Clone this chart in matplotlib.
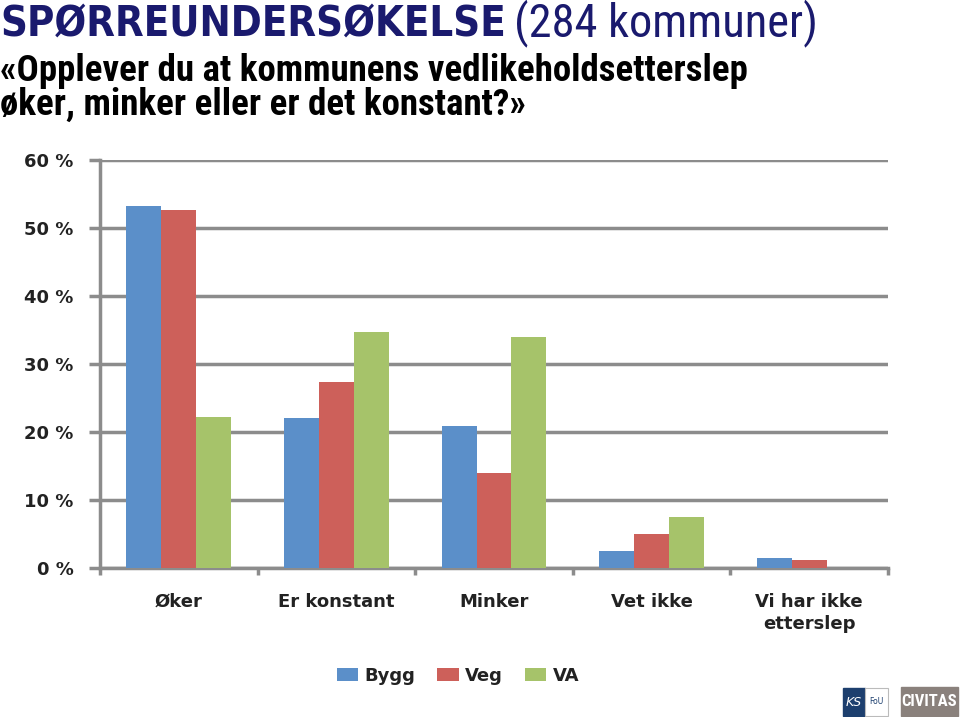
import matplotlib
matplotlib.use("Agg")
import matplotlib.pyplot as plt
import numpy as np
from matplotlib.patches import Rectangle

categories = ["Øker", "Er konstant", "Minker", "Vet ikke", "Vi har ikke\netterslep"]
series_names = ["Bygg", "Veg", "VA"]
bygg = [53.2, 22.1, 20.9, 2.5, 1.5]
veg = [52.6, 27.4, 14.0, 5.0, 1.2]
va = [22.2, 34.7, 34.0, 7.5, 0.0]
yticks = [0, 10, 20, 30, 40, 50, 60]
colors = ["#5b8fc9", "#cd605a", "#a6c36a"]

W, H = 960, 717
fig = plt.figure(figsize=(W / 100, H / 100), dpi=100)
ax = fig.add_axes([100 / W, 1 - 568 / H, 788 / W, 408 / H])

narrow = ["Liberation Sans Narrow", "Roboto Condensed", "DejaVu Sans"]
lab = ["DejaVu Sans"]
gray = "#8c8c8c"

x = np.arange(len(categories))
bw = 0.222
for i, (vals, c, n) in enumerate(zip([bygg, veg, va], colors, series_names)):
    ax.bar(x + (i - 1) * bw, vals, width=bw, color=c, label=n, zorder=3)

ax.set_xlim(-0.5, len(categories) - 0.5)
ax.set_ylim(0, 60)
ax.set_yticks(yticks)
ax.set_yticklabels([f"{v} %" for v in yticks], family=lab, fontweight="bold", fontsize=13,
                   color="#222222")
ax.set_xticks(x)
ax.set_xticklabels(categories, family=lab, fontweight="bold", fontsize=13, linespacing=1.3,
                   color="#222222")
ax.set_xticks(np.arange(len(categories) + 1) - 0.5, minor=True)
ax.tick_params(axis="x", which="major", length=0, pad=18)
ax.tick_params(axis="x", which="minor", length=5, width=2.5, color=gray)
ax.tick_params(axis="y", length=8, width=2.5, color=gray, pad=11)
ax.grid(axis="y", color=gray, linewidth=2.5, zorder=0)
for s in ["top", "right"]:
    ax.spines[s].set_visible(False)
for s in ["left", "bottom"]:
    ax.spines[s].set_color(gray)
    ax.spines[s].set_linewidth(2.5)

leg = fig.legend(loc="center", bbox_to_anchor=(458 / W, 1 - 676 / H), ncol=3, frameon=False,
                 prop={"family": lab, "weight": "bold", "size": 13},
                 handlelength=1.2, handleheight=0.75, columnspacing=1.2, handletextpad=0.35)
for t in leg.get_texts():
    t.set_color("#222222")

fig.text(0, 1 - 36 / H, "SPØRREUNDERSØKELSE", family="DejaVu Sans", fontweight="heavy",
         fontstretch="condensed", fontsize=30, color="#1a1a6e", va="baseline", ha="left")
fig.text(514 / W, 1 - 36 / H, "(284 kommuner)", family=narrow, fontsize=33.5,
         color="#1a1a6e", va="baseline", ha="left")
fig.text(0, 1 - 81 / H, "«Opplever du at kommunens vedlikeholdsetterslep", family=narrow,
         fontweight="bold", fontsize=26.6, color="black", va="baseline", ha="left")
fig.text(0, 1 - 115 / H, "øker, minker eller er det konstant?»", family=narrow,
         fontweight="bold", fontsize=26.6, color="black", va="baseline", ha="left")

# logos
fig.patches.append(Rectangle((843 / W, 1 - 716 / H), 22 / W, 28 / H, transform=fig.transFigure,
                             color="#1d3f6e"))
fig.patches.append(Rectangle((865 / W, 1 - 716 / H), 23 / W, 28 / H, transform=fig.transFigure,
                             facecolor="white", edgecolor="#bbbbbb", linewidth=0.8))
fig.text(854 / W, 1 - 702 / H, "KS", color="white", fontsize=9, style="italic",
         ha="center", va="center", family="DejaVu Sans")
fig.text(876 / W, 1 - 702 / H, "FoU", color="#1d3f6e", fontsize=5.5,
         ha="center", va="center", family="DejaVu Sans")
fig.patches.append(Rectangle((901 / W, 1 - 716 / H), 57 / W, 29 / H, transform=fig.transFigure,
                             color="#8a817c"))
fig.text(929.5 / W, 1 - 701.5 / H, "CIVITAS", color="white", fontsize=12, fontweight="bold",
         ha="center", va="center", family=narrow)

fig.savefig("out.png", dpi=100)
